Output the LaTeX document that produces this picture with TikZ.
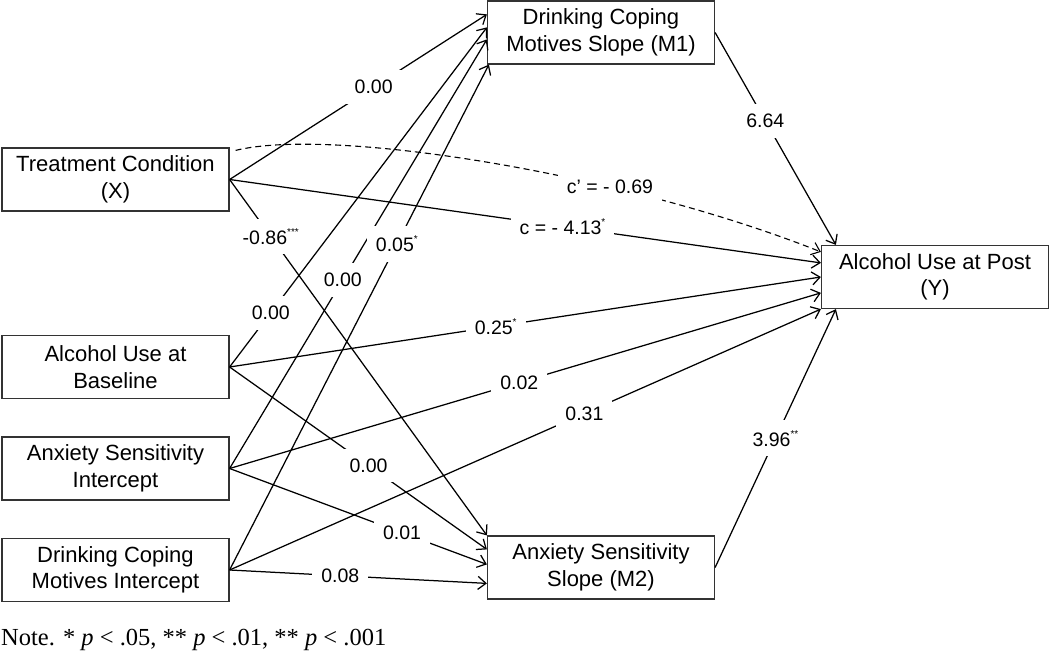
\documentclass[tikz,border=0pt]{standalone}
\usepackage{fontspec}
\setmainfont{Liberation Sans}
\newfontfamily\notefont{Liberation Serif}
\usetikzlibrary{arrows.meta,calc}
\newcommand\mystars[1]{\raisebox{0.45em}{\fontsize{10}{10}\selectfont #1}}
\begin{document}
\begin{tikzpicture}[x=1pt,y=-1pt,
  box/.style={draw=black!80, line width=1.2pt, fill=white, minimum width=227pt, minimum height=63pt,
    inner sep=0pt, align=center, font=\fontsize{22}{26.5}\selectfont},
  arr/.style={draw, line width=1.25pt, -{Straight Barb[length=8pt,width=13pt]}},
  lbl/.style={fill=white, inner xsep=9pt, inner ysep=10pt, font=\fontsize{19.5}{21}\selectfont},
]
\useasboundingbox (0,0) rectangle (1050,660);

\node[box] (X)  at (115.5,179.5) {Treatment Condition\\(X)};
\node[box] (A)  at (115.5,367)   {Alcohol Use at\\Baseline};
\node[box] (I)  at (115.5,468.5) {Anxiety Sensitivity\\Intercept};
\node[box] (D)  at (115.5,570)   {Drinking Coping\\Motives Intercept};
\node[box] (M1) at (601,32.5)    {Drinking Coping\\Motives Slope (M1)};
\node[box] (M2) at (601,567.5)   {Anxiety Sensitivity\\Slope (M2)};
\node[box] (Y)  at (935,277)     {Alcohol Use at Post\\(Y)};

% to M1
\draw[arr] (X.east) -- ($(M1.north west)+(0,14)$) node[lbl,pos=0.56] {0.00};
\draw[arr] (A.east) -- ($(M1.north west)+(0,27)$) node[lbl,pos=0.16] {0.00};
\draw[arr] (I.east) -- ($(M1.north west)+(0,39)$) node[lbl,pos=0.44] {0.00};
\draw[arr] (D.east) -- ($(M1.south west)+(2,0)$) node[lbl,pos=0.645] {0.05\mystars{*}};

% to M2
\draw[arr] (X.east) -- (M2.north west) node[lbl,pos=0.16] {-0.86\mystars{***}};
\draw[arr] (A.east) -- ($(M2.north west)+(0,14)$) node[lbl,pos=0.54] {0.00};
\draw[arr] (I.east) -- ($(M2.north west)+(0,29)$) node[lbl,pos=0.67] {0.01};
\draw[arr] (D.east) -- ($(M2.north west)+(0,48)$) node[lbl,pos=0.43] {0.08};

% to Y
\draw[arr, line width=1.1pt, dash pattern=on 6pt off 4pt] ($(X.north east)+(6,3)$) .. controls (330,127) and (620,172) .. ($(Y.north west)+(0,7)$)
  node[lbl,pos=0.68] {c’ = - 0.69};
\draw[arr] (X.east) -- ($(Y.north west)+(0,18)$) node[lbl,pos=0.563] {c = - 4.13\mystars{*}};
\draw[arr] (A.east) -- (Y.west) node[lbl,pos=0.45] {0.25\mystars{*}};
\draw[arr] (I.east) -- ($(Y.north west)+(0,48)$) node[lbl,pos=0.49] {0.02};
\draw[arr] (D.east) -- (Y.south west) node[lbl,pos=0.6] {0.31};
\draw[arr] (M1.east) -- ($(Y.north west)+(15,0)$) node[lbl,pos=0.415] {6.64};
\draw[arr] (M2.east) -- ($(Y.south west)+(15,0)$) node[lbl,pos=0.5] {3.96\mystars{**}};

\node[anchor=base west, inner sep=0pt, font=\notefont\fontsize{24.5}{26}\selectfont] (note) at (1,645)
  {Note. * \textit{p} < .05, ** \textit{p} < .01, ** \textit{p} < .001};
\end{tikzpicture}
\end{document}
